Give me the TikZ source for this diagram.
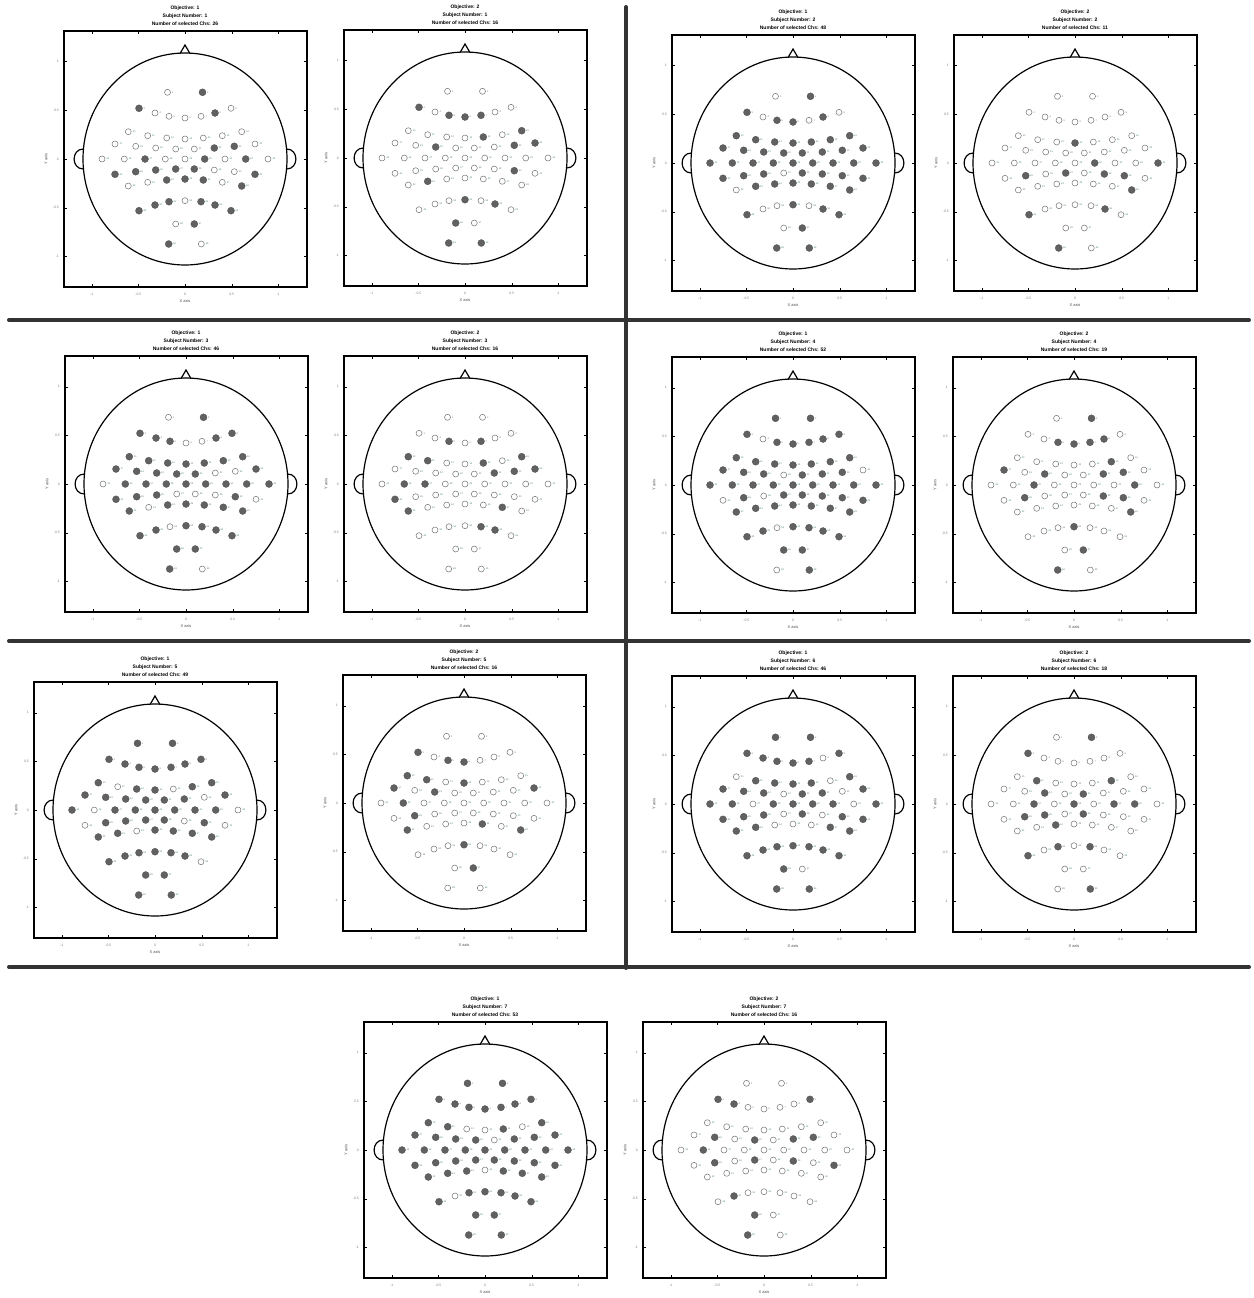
\documentclass[tikz,border=0pt]{standalone}
\usepackage{fontspec}
\setmainfont{Liberation Sans}
\begin{document}
\begin{tikzpicture}[x=1pt,y=-1pt,
  panelbox/.style={draw=black,line width=1.1pt},
  headline/.style={draw=black,line width=1.2pt},
  selel/.style={circle,fill=black!62,draw=black!70,line width=0.3pt,inner sep=0pt,minimum size=7pt},
  unselel/.style={circle,fill=white,draw=black!55,line width=0.5pt,inner sep=0pt,minimum size=6pt},
  elab/.style={font=\fontsize{2.4}{2.6}\selectfont,text=teal!40!gray,inner sep=0pt,anchor=west},
  ttl/.style={font=\fontsize{5}{6}\selectfont\bfseries,inner sep=0pt},
  ticklab/.style={font=\fontsize{3.4}{4}\selectfont,text=gray,inner sep=0pt},
  axlab/.style={font=\fontsize{4}{4.5}\selectfont,text=black!70,inner sep=0pt},
  tickmark/.style={draw=black,line width=0.4pt},
  sepline/.style={line width=4pt,draw=black!80,line cap=round}]
\fill[white] (0,0) rectangle (1253,1298);
\useasboundingbox (0,0) rectangle (1253,1298);
\def\elist{-17.5/-66.7,17.5/-66.7,
-46/-50.7,-30/-46,-16/-42.7,0/-41,16/-42.7,30/-46,46/-50.7,
-56.7/-27.3,-37.3/-23.3,-18.3/-21,0/-20,18.3/-21,37.3/-23.3,56.7/-27.3,
-70/-15,-49.3/-12.7,-29.3/-11,-9.3/-10,9.3/-10,29.3/-11,49.3/-12.7,70/-15,
-83/0,-60.7/0,-40/0,-19.7/0,0/0,19.7/0,40/0,60.7/0,83/0,
-70/15.3,-49.3/12.7,-29.3/11,-9.3/10,9.3/10,29.3/11,49.3/12.7,70/15.3,
-56.7/27,-37.3/23.3,-18.3/21,0/20,18.3/21,37.3/23.3,56.7/27,
-46/51.7,-30/46,-16/42.7,0/41.7,16/42.7,30/46,46/51.7,
-9.3/65,9.3/65,
-16.3/85,16.3/85}
\newcommand\topopanel[7]{%
\begin{scope}[shift={(#2,#3)}]
 \node[ttl] (#1t1) at (0,-151) {Objective: #4};
 \node[ttl] (#1t2) at (0,-143) {Subject Number: #5};
 \node[ttl] (#1t3) at (0,-135) {Number of selected Chs: #6};
 \draw[panelbox] (-121,-128) rectangle (122,128);
 \foreach \t/\lab in {-93.3/-1,-46.7/-0.5,0/0,46.7/0.5,93.3/1}{
   \draw[tickmark] (\t,128) -- (\t,125.3);
   \draw[tickmark] (\t,-128) -- (\t,-125.3);
   \node[ticklab] at (\t,135) {\lab};}
 \foreach \t/\lab in {-97.3/1,-48.7/0.5,0/0,48.7/-0.5,97.3/-1}{
   \draw[tickmark] (-121,\t) -- (-118.3,\t);
   \draw[tickmark] (122,\t) -- (119.3,\t);
   \node[ticklab,anchor=east] at (-126,\t) {\lab};}
 \node[axlab] (#1xl) at (0,142) {X axis};
 \node[axlab,rotate=90] (#1yl) at (-139,0) {Y axis};
 \draw[headline] (0,0) ellipse [x radius=102, y radius=106];
 \draw[headline] (-5,-105.4) -- (0,-114) -- (5,-105.4);
 \draw[headline] (-101.6,-10) .. controls (-114,-10) and (-114,10) .. (-101.6,10);
 \draw[headline] (101.6,-10) .. controls (114,-10) and (114,10) .. (101.6,10);
 \def\pat{{#7}}%
 \foreach \ex/\ey [count=\i] in \elist {
   \pgfmathtruncatemacro\f{\pat[\i-1]}
   \ifnum\f=1
     \node[selel] (#1e\i) at (\ex,\ey) {};
   \else
     \node[unselel] (#1e\i) at (\ex,\ey) {};
   \fi
   \node[elab] (#1l\i) at (\ex+4.3,\ey) {\i};
 }
\end{scope}}
% Row 1
\topopanel{pa}{185}{159}{1}{1}{26}{0,1, 1,0,0,0,0,1,0, 0,0,0,0,0,0,0, 0,0,0,0,0,1,1,0, 0,0,1,0,0,1,0,1,0, 1,1,1,1,1,0,0,1, 0,0,1,1,1,0,1, 1,1,1,0,1,1,1, 0,1, 1,0}
\topopanel{pb}{465}{158}{2}{1}{16}{0,0, 1,0,1,1,1,0,0, 0,0,0,0,1,0,1, 0,0,1,0,0,0,1,1, 0,0,0,0,0,0,0,0,0, 0,0,0,0,0,0,1,0, 0,1,0,0,0,0,0, 0,0,0,1,0,1,0, 1,0, 1,1}
\topopanel{pc}{793}{163}{1}{2}{48}{0,1, 1,0,1,1,0,1,0, 1,1,1,1,1,1,1, 1,1,1,1,1,1,1,1, 1,1,1,1,1,1,1,1,1, 1,1,1,0,1,1,1,1, 0,1,1,1,1,1,1, 1,0,0,1,0,1,1, 0,1, 1,1}
\topopanel{pd}{1075}{163}{2}{2}{11}{0,0, 0,0,0,0,0,0,0, 0,0,0,1,0,0,0, 0,0,0,0,0,0,0,0, 0,0,0,0,0,1,0,0,1, 0,1,0,1,0,1,1,0, 0,0,0,0,0,0,1, 1,0,0,0,0,1,0, 0,0, 1,0}
% Row 2
\topopanel{pe}{186}{484}{1}{3}{46}{0,1, 1,1,1,0,0,1,1, 1,1,1,1,1,1,1, 1,1,1,1,1,0,0,1, 0,1,1,1,1,1,1,1,1, 1,1,1,0,0,0,1,0, 1,0,1,1,1,1,1, 1,1,0,1,1,1,1, 1,1, 1,0}
\topopanel{pf}{465}{484}{2}{3}{16}{0,0, 0,0,1,0,1,0,0, 1,1,0,0,1,0,1, 0,0,0,0,0,1,1,1, 0,1,1,0,0,0,0,0,0, 1,0,0,0,0,0,0,0, 1,0,0,0,0,1,0, 0,0,0,0,1,1,0, 0,0, 0,0}
\topopanel{pg}{793}{485}{1}{4}{52}{1,1, 1,0,1,1,1,1,1, 1,1,1,1,1,1,1, 1,1,1,0,1,1,1,0, 1,1,1,1,1,1,1,1,1, 0,1,0,1,1,1,1,1, 1,1,1,1,1,1,1, 1,1,0,1,1,1,1, 1,1, 0,1}
\topopanel{ph}{1074}{485}{2}{4}{19}{0,1, 0,0,1,1,1,1,0, 0,0,0,0,0,1,0, 1,0,1,0,0,1,1,0, 0,0,1,0,0,0,0,1,0, 0,1,0,0,0,1,1,0, 0,0,0,0,0,0,1, 0,0,0,1,0,0,0, 0,1, 1,0}
% Row 3
\topopanel{pi}{155}{810}{1}{5}{49}{1,1, 1,1,1,1,1,1,1, 1,0,1,1,0,1,1, 1,1,1,1,1,1,0,1, 1,0,1,1,1,1,1,1,0, 0,1,1,1,1,0,1,0, 1,1,0,1,1,1,1, 1,1,1,1,1,1,0, 1,1, 1,1}
\topopanel{pj}{464}{803}{2}{5}{16}{0,0, 1,0,1,1,0,0,0, 1,1,0,1,0,0,0, 1,0,1,0,0,0,0,1, 0,1,0,0,0,0,0,0,0, 0,1,0,0,0,0,0,0, 1,0,0,0,1,0,1, 0,0,0,1,0,0,0, 0,1, 0,0}
\topopanel{pk}{793}{804}{1}{6}{46}{1,1, 1,1,1,1,1,0,1, 0,1,1,1,1,0,1, 1,1,1,0,1,1,0,1, 1,1,0,1,1,1,1,0,1, 1,1,1,0,1,0,1,1, 1,1,0,0,0,1,1, 1,1,1,1,1,1,1, 1,0, 1,1}
\topopanel{pl}{1074}{804}{2}{6}{18}{0,1, 1,0,0,0,0,0,0, 0,1,0,0,0,1,0, 0,0,1,0,1,0,0,0, 0,0,1,0,1,0,1,1,0, 0,1,1,0,1,0,0,0, 0,0,1,0,0,0,0, 1,0,1,0,1,0,0, 0,0, 0,1}
% Row 4
\topopanel{pm}{485}{1150}{1}{7}{53}{1,1, 1,1,1,1,1,1,1, 1,1,0,0,1,0,1, 1,1,1,1,0,1,1,1, 1,1,1,1,1,1,1,1,1, 1,1,1,1,1,1,1,1, 1,1,1,0,1,1,1, 1,0,1,1,1,1,1, 1,1, 1,1}
\topopanel{pn}{764}{1150}{2}{7}{16}{0,0, 1,1,0,0,0,0,1, 0,0,0,0,0,0,0, 0,1,0,1,0,1,1,0, 0,1,0,0,0,0,0,0,0, 0,1,0,1,0,1,0,1, 0,0,0,0,0,0,0, 0,1,0,0,0,0,0, 1,0, 1,0}
% separators
\coordinate (h1a) at (9,320);   \coordinate (h1b) at (1249,320);
\coordinate (h2a) at (9,641);   \coordinate (h2b) at (1249,641);
\coordinate (h3a) at (9,967);   \coordinate (h3b) at (1249,967);
\coordinate (va) at (626,7);    \coordinate (vb) at (626,968);
\draw[sepline] (h1a) -- (h1b);
\draw[sepline] (h2a) -- (h2b);
\draw[sepline] (h3a) -- (h3b);
\draw[sepline] (va) -- (vb);
\end{tikzpicture}
\end{document}
